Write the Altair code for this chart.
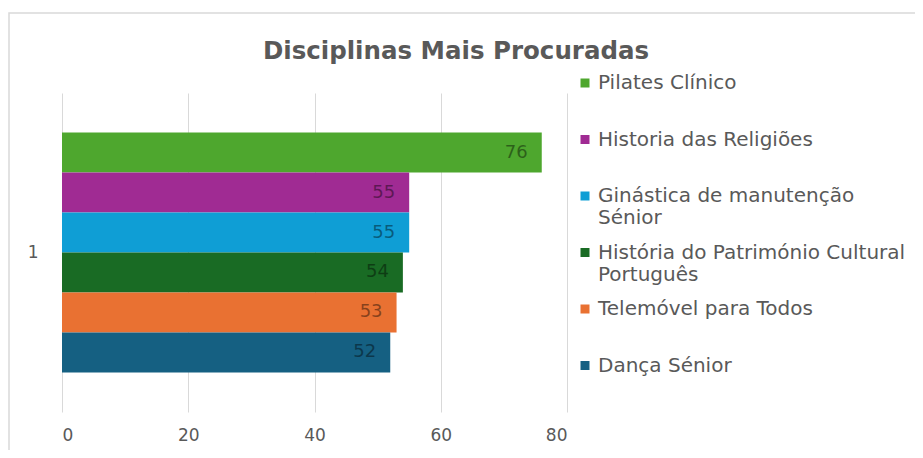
import altair as alt
import pandas as pd

title_text = ["Disciplinas Mais Procuradas"]
categories = ["1", "1", "1", "1", "1", "1"]
series = [
    "Pilates Clínico",
    "Historia das Religiões",
    "Ginástica de manutenção Sénior",
    "História do Património Cultural Português",
    "Telemóvel para Todos",
    "Dança Sénior",
]
values = [76, 55, 55, 54, 53, 52]
colors = ["#4EA72E", "#A02B93", "#0F9ED5", "#196B24", "#E97132", "#156082"]
x_ticks = [0, 20, 40, 60, 80]

df = pd.DataFrame({"cat": categories, "serie": series, "valor": values})

FONT = "DejaVu Sans"
GRAY = "#595959"

label_expr = (
    "datum.label == 'Ginástica de manutenção Sénior' ? ['Ginástica de manutenção', 'Sénior'] : "
    "datum.label == 'História do Património Cultural Português' ? ['História do Património Cultural', 'Português'] : "
    "[datum.label, ' ']"
)

base = alt.Chart(df)

bars = base.mark_bar(size=40).encode(
    x=alt.X(
        "valor:Q",
        scale=alt.Scale(domain=[0, 80], nice=False),
        axis=alt.Axis(
            values=x_ticks, title=None, domain=False, ticks=False,
            grid=True, gridColor="#d9d9d9", labelPadding=15,
            labelFont=FONT, labelFontSize=17, labelColor=GRAY,
        ),
    ),
    y=alt.Y(
        "cat:N",
        scale=alt.Scale(paddingInner=0, paddingOuter=0.165),
        axis=alt.Axis(
            title=None, domain=False, ticks=False, labelPadding=24,
            labelFont=FONT, labelFontSize=17, labelColor=GRAY,
        ),
    ),
    yOffset=alt.YOffset("serie:N", sort=series, scale=alt.Scale(padding=0)),
    color=alt.Color(
        "serie:N",
        sort=series,
        scale=alt.Scale(domain=series, range=colors),
        legend=alt.Legend(
            title=None, orient="none", legendX=513, legendY=-20,
            symbolType="square", symbolSize=81, symbolStrokeWidth=0,
            labelFont=FONT, labelFontSize=20, labelColor=GRAY,
            labelOffset=3, labelLimit=400, rowPadding=14.5, padding=0,
            labelExpr=label_expr, labelBaseline="middle",
        ),
    ),
)

labels = base.mark_text(
    align="right", baseline="middle", dx=-14, font=FONT, fontSize=18,
    color="#000000", opacity=0.42,
).encode(
    x="valor:Q",
    y="cat:N",
    yOffset=alt.YOffset("serie:N", sort=series),
    text="valor:Q",
)

title = alt.Chart(alt.Data(values=[{"t": t} for t in title_text])).mark_text(
    font=FONT, fontSize=24.5, fontWeight="bold", color=GRAY,
    align="center", baseline="middle",
).encode(x=alt.value(394), y=alt.value(-41), text="t:N")

frame = alt.Chart(alt.Data(values=[{"a": 1}])).mark_rect(
    fill=None, stroke="#d9d9d9", strokeWidth=1.5
).encode(
    x=alt.value(-53), x2=alt.value(900), y=alt.value(-80), y2=alt.value(500)
)

chart = alt.layer(frame, bars, labels, title).properties(
    width=505,
    height=319,
    background="white",
    autosize=alt.AutoSizeParams(type="none"),
    padding={"left": 54, "top": 85, "right": 348, "bottom": 38},
).configure_view(stroke=None)

chart.save("out.html", embed_options={"renderer": "svg", "actions": False})
